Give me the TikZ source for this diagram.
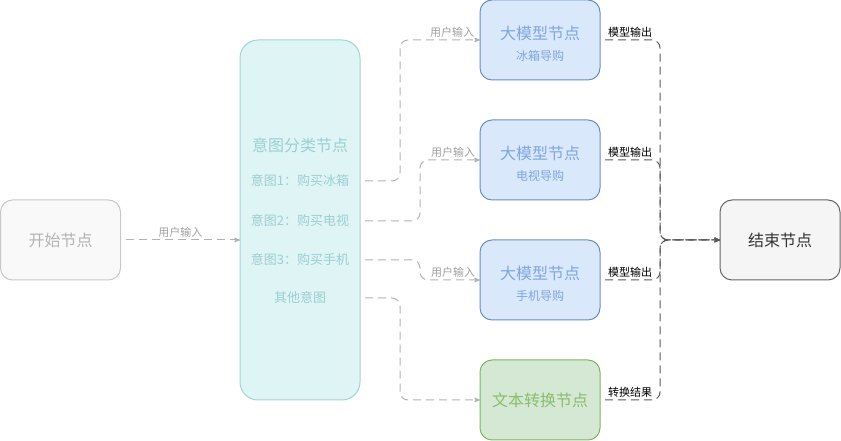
\documentclass[tikz,border=0pt]{standalone}
\usepackage{fontspec}
\setmainfont{Noto Sans CJK SC}
\usetikzlibrary{arrows,positioning}

\definecolor{stfill}{HTML}{F9F9F9}
\definecolor{stdraw}{HTML}{C8C8C8}
\definecolor{sttext}{HTML}{B3B3B3}
\definecolor{icfill}{HTML}{DFF4F4}
\definecolor{icdraw}{HTML}{A0D4DA}
\definecolor{ictext}{HTML}{9CCFD3}
\definecolor{llmfill}{HTML}{DAE8FC}
\definecolor{llmdraw}{HTML}{6C8EBF}
\definecolor{llmtext}{HTML}{7EA6E0}
\definecolor{tcfill}{HTML}{D5E8D4}
\definecolor{tcdraw}{HTML}{82B366}
\definecolor{tctext}{HTML}{8CBC6C}
\definecolor{endfill}{HTML}{F5F5F5}
\definecolor{enddraw}{HTML}{666666}
\definecolor{inline}{HTML}{B3B3B3}
\definecolor{intext}{HTML}{A0A0A0}
\definecolor{outline}{HTML}{5A5A5A}

\newcommand{\llmlines}[2]{\rule{0pt}{20pt}#1\\[1pt]{\fontsize{12}{14}\selectfont #2}}

\begin{document}
\begin{tikzpicture}[x=1pt,y=1pt,
	box/.style	={rectangle,draw,line width=1pt,rounded corners=12pt,inner sep=0pt,outer sep=0pt,minimum width=120pt,minimum height=80pt,align=center,font=\fontsize{16}{20}\selectfont},
	startnode/.style	={box,fill=stfill,draw=stdraw,text=sttext},
	intentbox/.style	={box,fill=icfill,draw=icdraw,minimum height=360pt,rounded corners=18pt},
	intenttext/.style	={inner sep=0pt,minimum width=120pt,text=ictext,font=\fontsize{13}{16}\selectfont},
	llm/.style	={box,fill=llmfill,draw=llmdraw,text=llmtext},
	conv/.style	={box,fill=tcfill,draw=tcdraw,text=tctext},
	endnode/.style	={box,fill=endfill,draw=enddraw,text=black!80},
	inpath/.style	={->, >=stealth', line width=1pt, draw=inline, dash pattern=on 8pt off 5pt, rounded corners=8pt, shorten <=5pt},
	outpath/.style	={->, >=stealth', line width=1pt, draw=outline, dash pattern=on 8pt off 5pt, rounded corners=8pt, shorten <=5pt},
	inlabel/.style	={above,inner sep=2pt,text=intext,font=\fontsize{11}{13}\selectfont},
	outlabel/.style	={above,inner sep=2pt,text=black,font=\fontsize{11}{13}\selectfont},
	]
	\useasboundingbox (0,0) rectangle (841,441);

	\node [startnode] (ST) at (60.5,201) {开始节点};
	\node [intentbox] (IC) at (300,221) {};
	\node [intenttext,font=\fontsize{16}{20}\selectfont] (CT) at (300,296) {意图分类节点};
	\node [intenttext] (I1) at (300,260) {意图1：购买冰箱};
	\node [intenttext] (I2) at (300,220) {意图2：购买电视};
	\node [intenttext] (I3) at (300,181) {意图3：购买手机};
	\node [intenttext] (IO) at (300,143) {其他意图};

	\node [llm] (FR) at (540,401) {\llmlines{大模型节点}{冰箱导购}};
	\node [llm] (TV) [below=40pt of FR] {\llmlines{大模型节点}{电视导购}};
	\node [llm] (PH) [below=40pt of TV] {\llmlines{大模型节点}{手机导购}};
	\node [conv] (TC) [below=40pt of PH] {文本转换节点};
	\node [endnode] (END) at (780,201) {结束节点};

	\draw [inpath] (ST.east) to node [inlabel] {用户输入} (ST.east -| IC.west);

	\foreach \src/\dst/\dx/\p in {I1/FR/80/.65, I2/TV/60/.55, I3/PH/60/.55}
	{
		\draw [inpath] (\src.east) -| ([xshift=-\dx pt]\dst.west) -- node [inlabel,pos=\p] {用户输入} (\dst.west);
	}
	\draw [inpath] (IO.east) -| ([xshift=-80pt]TC.west) -- (TC.west);

	\foreach \m/\t in {FR/模型输出, TV/模型输出, PH/模型输出, TC/转换结果}
	\draw [outpath] (\m.east) -- node [outlabel] {\t} ([xshift=60pt]\m.east) |- (END.west);
\end{tikzpicture}
\end{document}
